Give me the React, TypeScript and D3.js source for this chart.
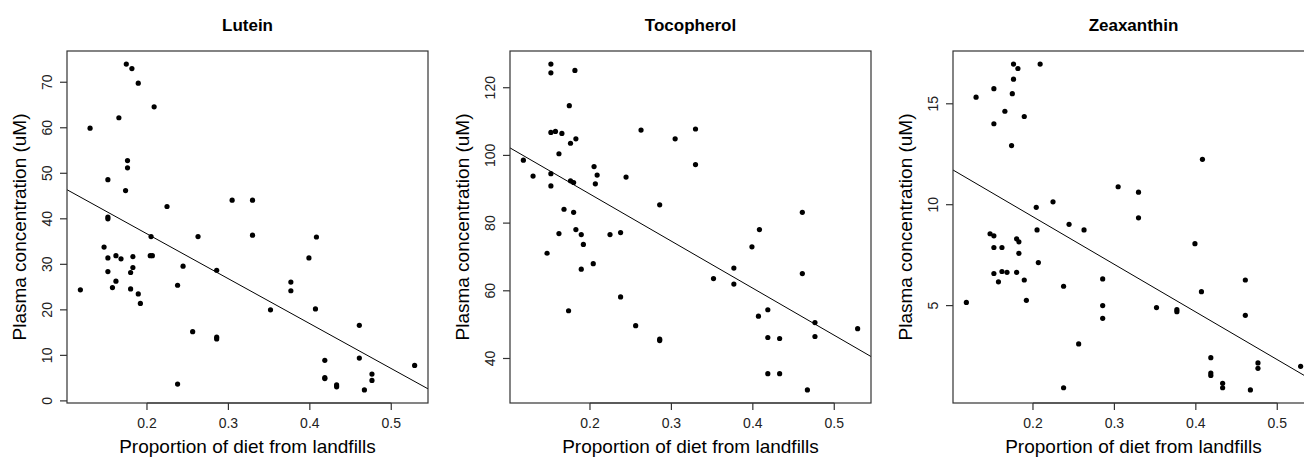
import React from 'react';
import * as d3 from 'd3';

// Proportion of diet from landfills (shared by all three panels)
const dietProportion = [
  0.1182, 0.1301, 0.1473,
  0.152, 0.152, 0.152, 0.152, 0.152,
  0.1576, 0.1619, 0.1619, 0.1655, 0.1681, 0.1737, 0.1746,
  0.1761, 0.1761, 0.1799, 0.1799, 0.1815, 0.1827, 0.1827,
  0.1893, 0.1893, 0.1919, 0.204, 0.205, 0.2066, 0.2088, 0.2246,
  0.2376, 0.2376, 0.2443, 0.2561, 0.2627,
  0.2856, 0.2856, 0.2856, 0.3046, 0.3296, 0.3296, 0.3517,
  0.3767, 0.3767, 0.3989, 0.4069, 0.4081,
  0.4184, 0.4184, 0.4184, 0.4329, 0.4329, 0.4608, 0.4608,
  0.467, 0.4763, 0.4763, 0.5287,
];

const lutein = [
  24.4, 59.9, 33.8,
  48.6, 40.4, 40.0, 31.4, 28.4,
  24.9, 31.9, 26.3, 62.2, 31.2, 46.2, 74.0,
  52.8, 51.2, 28.2, 24.6, 73.0, 31.7, 29.3,
  69.8, 23.5, 21.4, 31.9, 36.1, 31.9, 64.6, 42.7,
  25.4, 3.7, 29.6, 15.2, 36.1,
  28.7, 14.0, 13.6, 44.1, 44.1, 36.4, 20.0,
  26.1, 24.2, 31.4, 20.2, 36.0,
  8.9, 5.1, 4.9, 3.5, 3.1, 16.6, 9.4,
  2.4, 5.9, 4.5, 7.8,
];

const tocopherol = [
  98.6, 93.9, 71.1,
  127.0, 124.4, 106.8, 94.6, 91.0,
  107.1, 100.5, 76.9, 106.5, 84.1, 54.1, 114.7,
  103.6, 92.5, 92.0, 83.2, 125.1, 104.9, 78.1,
  76.6, 66.4, 73.7, 68.0, 96.7, 91.6, 94.2, 76.6,
  77.2, 58.2, 93.6, 49.7, 107.5,
  85.4, 45.7, 45.3, 104.9, 107.8, 97.3, 63.6,
  66.7, 62.0, 73.0, 52.5, 78.1,
  54.4, 46.2, 35.5, 45.9, 35.5, 83.2, 65.1,
  30.7, 50.6, 46.5, 48.8,
];

const zeaxanthin = [
  5.16, 15.33, 8.56,
  15.75, 14.01, 8.46, 7.88, 6.59,
  6.18, 7.88, 6.69, 14.63, 6.65, 12.93, 15.5,
  16.97, 16.22, 8.31, 6.65, 16.75, 8.16, 7.59,
  14.37, 6.27, 5.26, 9.87, 8.75, 7.13, 16.97, 10.14,
  5.96, 0.93, 9.03, 3.1, 8.75,
  6.32, 5.0, 4.37, 10.89, 10.62, 9.35, 4.9,
  4.8, 4.7, 8.07, 5.69, 12.25,
  2.42, 1.66, 1.54, 1.15, 0.93, 6.27, 4.52,
  0.82, 2.16, 1.89, 1.99,
];

const panelTitles = ['Lutein', 'Tocopherol', 'Zeaxanthin'];
const xTicks = [0.2, 0.3, 0.4, 0.5];
const luteinTicks = [0, 10, 20, 30, 40, 50, 60, 70];
const tocopherolTicks = [40, 60, 80, 100, 120];
const zeaxanthinTicks = [5, 10, 15];

const xLabel = 'Proportion of diet from landfills';
const yLabel = 'Plasma concentration (uM)';

const W = 1304;
const H = 457;
const BOX_LEFT = 67;
const BOX_W = 361;
const BOX_TOP = 51;
const BOX_BOTTOM = 403;
const PANEL_STEP = 443;
const FONT = "'Liberation Sans', Arial, Helvetica, sans-serif";

function extendRange(vals: number[]): [number, number] {
  const [a, b] = d3.extent(vals) as [number, number];
  const d = (b - a) * 0.04;
  return [a - d, b + d];
}

function linFit(xs: number[], ys: number[]) {
  const mx = d3.mean(xs) as number;
  const my = d3.mean(ys) as number;
  let sxy = 0;
  let sxx = 0;
  xs.forEach((x, i) => {
    sxy += (x - mx) * (ys[i] - my);
    sxx += (x - mx) * (x - mx);
  });
  const b = sxy / sxx;
  return { a: my - b * mx, b };
}

function Panel({ idx, title, ys, ticks }: { idx: number; title: string; ys: number[]; ticks: number[] }) {
  const left = BOX_LEFT + idx * PANEL_STEP;
  const right = left + BOX_W;
  const xDom = extendRange(dietProportion);
  const yDom = extendRange(ys);
  const x = d3.scaleLinear().domain(xDom).range([left, right]);
  const y = d3.scaleLinear().domain(yDom).range([BOX_BOTTOM, BOX_TOP]);
  const fit = linFit(dietProportion, ys);
  const cx = (left + right) / 2;
  const cy = (BOX_TOP + BOX_BOTTOM) / 2;
  const clipId = `clip-${idx}`;
  const line = d3.line<number>().x((d) => x(d)).y((d) => y(fit.a + fit.b * d));
  return (
    <g>
      <defs>
        <clipPath id={clipId}>
          <rect x={left} y={BOX_TOP} width={BOX_W} height={BOX_BOTTOM - BOX_TOP} />
        </clipPath>
      </defs>
      <text x={cx} y={31} textAnchor="middle" fontWeight="bold" fontSize={17} fontFamily={FONT} fill="#000">
        {title}
      </text>
      {dietProportion.map((d, i) => (
        <circle key={i} cx={x(d)} cy={y(ys[i])} r={2.6} fill="#000" />
      ))}
      <path d={line(xDom) || ''} stroke="#000" strokeWidth={1} fill="none" clipPath={`url(#${clipId})`} />
      <rect x={left} y={BOX_TOP} width={BOX_W} height={BOX_BOTTOM - BOX_TOP} fill="none" stroke="#333" strokeWidth={1.2} />
      <line x1={x(xTicks[0])} x2={x(xTicks[xTicks.length - 1])} y1={BOX_BOTTOM} y2={BOX_BOTTOM} stroke="#333" strokeWidth={1.2} />
      {xTicks.map((t) => (
        <g key={t}>
          <line x1={x(t)} x2={x(t)} y1={BOX_BOTTOM} y2={BOX_BOTTOM + 7} stroke="#333" strokeWidth={1.2} />
          <text x={x(t)} y={428} textAnchor="middle" fontSize={14} fontFamily={FONT} fill="#222">
            {t.toFixed(1)}
          </text>
        </g>
      ))}
      {ticks.map((t) => (
        <g key={t}>
          <line x1={left - 7} x2={left} y1={y(t)} y2={y(t)} stroke="#333" strokeWidth={1.2} />
          <text
            transform={`translate(${left - 15},${y(t)}) rotate(-90)`}
            textAnchor="middle"
            fontSize={14}
            fontFamily={FONT}
            fill="#222"
          >
            {t}
          </text>
        </g>
      ))}
      <text x={cx} y={453} textAnchor="middle" fontSize={19} fontFamily={FONT} fill="#000">
        {xLabel}
      </text>
      <text
        transform={`translate(${left - 41},${cy}) rotate(-90)`}
        textAnchor="middle"
        fontSize={19}
        fontFamily={FONT}
        fill="#000"
      >
        {yLabel}
      </text>
    </g>
  );
}

export default function App() {
  const series = [lutein, tocopherol, zeaxanthin];
  const tickSets = [luteinTicks, tocopherolTicks, zeaxanthinTicks];
  return (
    <svg
      width={W}
      height={H}
      style={{ position: 'absolute', left: 0, top: 0, background: '#fff' }}
      xmlns="http://www.w3.org/2000/svg"
    >
      <rect x={0} y={0} width={W} height={H} fill="#fff" />
      {panelTitles.map((t, i) => (
        <Panel key={t} idx={i} title={t} ys={series[i]} ticks={tickSets[i]} />
      ))}
    </svg>
  );
}
